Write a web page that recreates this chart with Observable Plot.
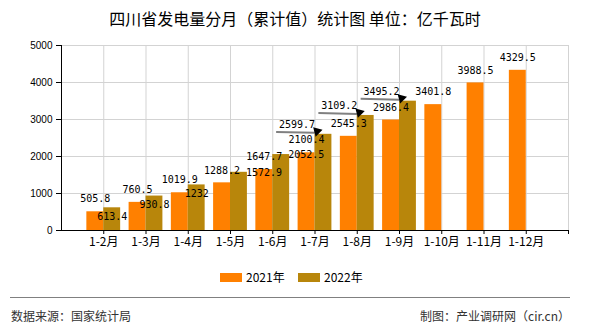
<!DOCTYPE html>
<html>
<head>
<meta charset="utf-8">
<script src="https://cdn.jsdelivr.net/npm/d3@7"></script>
<script src="https://cdn.jsdelivr.net/npm/@observablehq/plot@0.6"></script>
<style>
  html, body { margin: 0; padding: 0; background: #fff; }
  #wrap { position: relative; width: 590px; height: 330px; background: #fff; overflow: hidden; }
  #title { position: absolute; top: 8px; left: 0; width: 590px; text-align: center; font: 16px/20px "Noto Sans CJK SC", sans-serif; color: #000; }
  #chart { position: absolute; top: 0; left: 0; }
  #legend { position: absolute; top: 270px; left: 0; width: 590px; height: 14px; font: 12px/14px "Noto Sans CJK SC", sans-serif; color: #000; }
  .item { position: absolute; top: 0; height: 14px; }
  .sw { position: absolute; top: 2.5px; left: 0; width: 22px; height: 9px; }
  .lt { position: absolute; top: 0; left: 26px; white-space: nowrap; }
  #rule { position: absolute; top: 297px; left: 10px; width: 560px; height: 1px; background: #808080; }
  .foot { position: absolute; top: 309px; font: 12px/14px "Noto Sans CJK SC", sans-serif; color: #333; white-space: nowrap; }
</style>
</head>
<body>
<div id="wrap">
  <div id="title"></div>
  <div id="chart"></div>
  <div id="legend"></div>
  <div id="rule"></div>
  <div class="foot" id="src" style="left:11px"></div>
  <div class="foot" id="maker" style="right:20px"></div>
</div>
<script>
const titleText = "四川省发电量分月（累计值）统计图 单位：亿千瓦时";
const sourceText = "数据来源：国家统计局";
const makerText = "制图：产业调研网（cir.cn）";
const categories = ["1-2月", "1-3月", "1-4月", "1-5月", "1-6月", "1-7月", "1-8月", "1-9月", "1-10月", "1-11月", "1-12月"];
const seriesNames = ["2021年", "2022年"];
const values2021 = [505.8, 760.5, 1019.9, 1288.2, 1647.7, 2100.4, 2545.3, 2986.4, 3401.8, 3988.5, 4329.5];
const values2022 = [613.4, 930.8, 1232, 1572.9, 2052.5, 2599.7, 3109.2, 3495.2];
const labelPlacement2022 = ["inside", "inside", "inside", "right", "right", "leader", "leader", "leader"];
const yTicks = [0, 1000, 2000, 3000, 4000, 5000];
const colors = ["#FF8000", "#B8860B"];

document.getElementById("title").textContent = titleText;
document.getElementById("src").textContent = sourceText;
document.getElementById("maker").textContent = makerText;

// legend
const legend = document.getElementById("legend");
const legendX = [220, 298];
seriesNames.forEach((name, k) => {
  const it = document.createElement("div");
  it.className = "item";
  it.style.left = legendX[k] + "px";
  const sw = document.createElement("div");
  sw.className = "sw";
  sw.style.background = colors[k];
  const t = document.createElement("div");
  t.className = "lt";
  t.textContent = name;
  it.appendChild(sw); it.appendChild(t);
  legend.appendChild(it);
});

const rows2021 = values2021.map((v, i) => ({i: i + 1, v}));
const rows2022 = values2022.map((v, i) => ({i: i + 1, v, p: labelPlacement2022[i]}));
const xTicks = d3.range(1, categories.length + 2);
const numFont = "DejaVu Sans Mono, monospace";

const chart = Plot.plot({
  width: 590,
  height: 260,
  marginLeft: 61,
  marginRight: 22,
  marginTop: 45,
  marginBottom: 30,
  style: {background: "transparent", fontFamily: "Noto Sans CJK SC, sans-serif"},
  x: {type: "linear", domain: [0, categories.length + 1]},
  y: {domain: [0, 5000]},
  marks: [
    Plot.gridY(yTicks.slice(1), {stroke: "#d3d3d3", strokeOpacity: 1}),
    Plot.gridX(xTicks, {stroke: "#d3d3d3", strokeOpacity: 1}),
    Plot.rectY(rows2021, {x1: d => d.i - 0.4, x2: d => d.i, y: "v", fill: colors[0]}),
    Plot.rectY(rows2022, {x1: d => d.i, x2: d => d.i + 0.4, y: "v", fill: colors[1]}),
    Plot.ruleX([0], {stroke: "#000"}),
    Plot.ruleY([0], {stroke: "#000"}),
    Plot.axisY({ticks: yTicks, tickSize: 5, tickPadding: 4, tickFormat: d => String(d), fontSize: 10, fontFamily: "Liberation Sans, Arial, sans-serif", stroke: "#000", fill: "#000", label: null}),
    Plot.axisX({ticks: xTicks, tickSize: 4, tickPadding: 3, tickFormat: d => categories[d - 1] ?? "", fontSize: 12, fill: "#000", stroke: "#000", label: null}),
    Plot.text(rows2021, {x: d => d.i - 0.2, y: "v", text: d => String(d.v), dy: -12.5, fontFamily: numFont, fontSize: 10, fill: "#000"}),
    Plot.text(rows2022.filter(d => d.p === "inside"), {x: d => d.i + 0.2, y: "v", text: d => String(d.v), dy: 8.5, fontFamily: numFont, fontSize: 10, fill: "#000"}),
    Plot.text(rows2022.filter(d => d.p === "right"), {x: d => d.i + 0.2, y: "v", text: d => String(d.v), dx: 25, dy: 0, fontFamily: numFont, fontSize: 10, fill: "#000"}),
    Plot.link(rows2022.filter(d => d.p === "leader"), {x1: d => d.i - 0.92, y1: d => d.v + 65, x2: d => d.i, y2: d => d.v + 40, stroke: "#808080", strokeWidth: 2}),
    Plot.dot(rows2022.filter(d => d.p === "leader"), {x: d => d.i + 0.05, y: d => d.v, dy: -3, symbol: "triangle", r: 3.6, fill: "#000", stroke: "none", rotate: 75}),
    Plot.text(rows2022.filter(d => d.p === "leader"), {x: d => d.i + 0.2, y: "v", text: d => String(d.v), dx: -26.5, dy: -9.5, fontFamily: numFont, fontSize: 10, fill: "#000"})
  ]
});
document.getElementById("chart").appendChild(chart);
</script>
</body>
</html>
